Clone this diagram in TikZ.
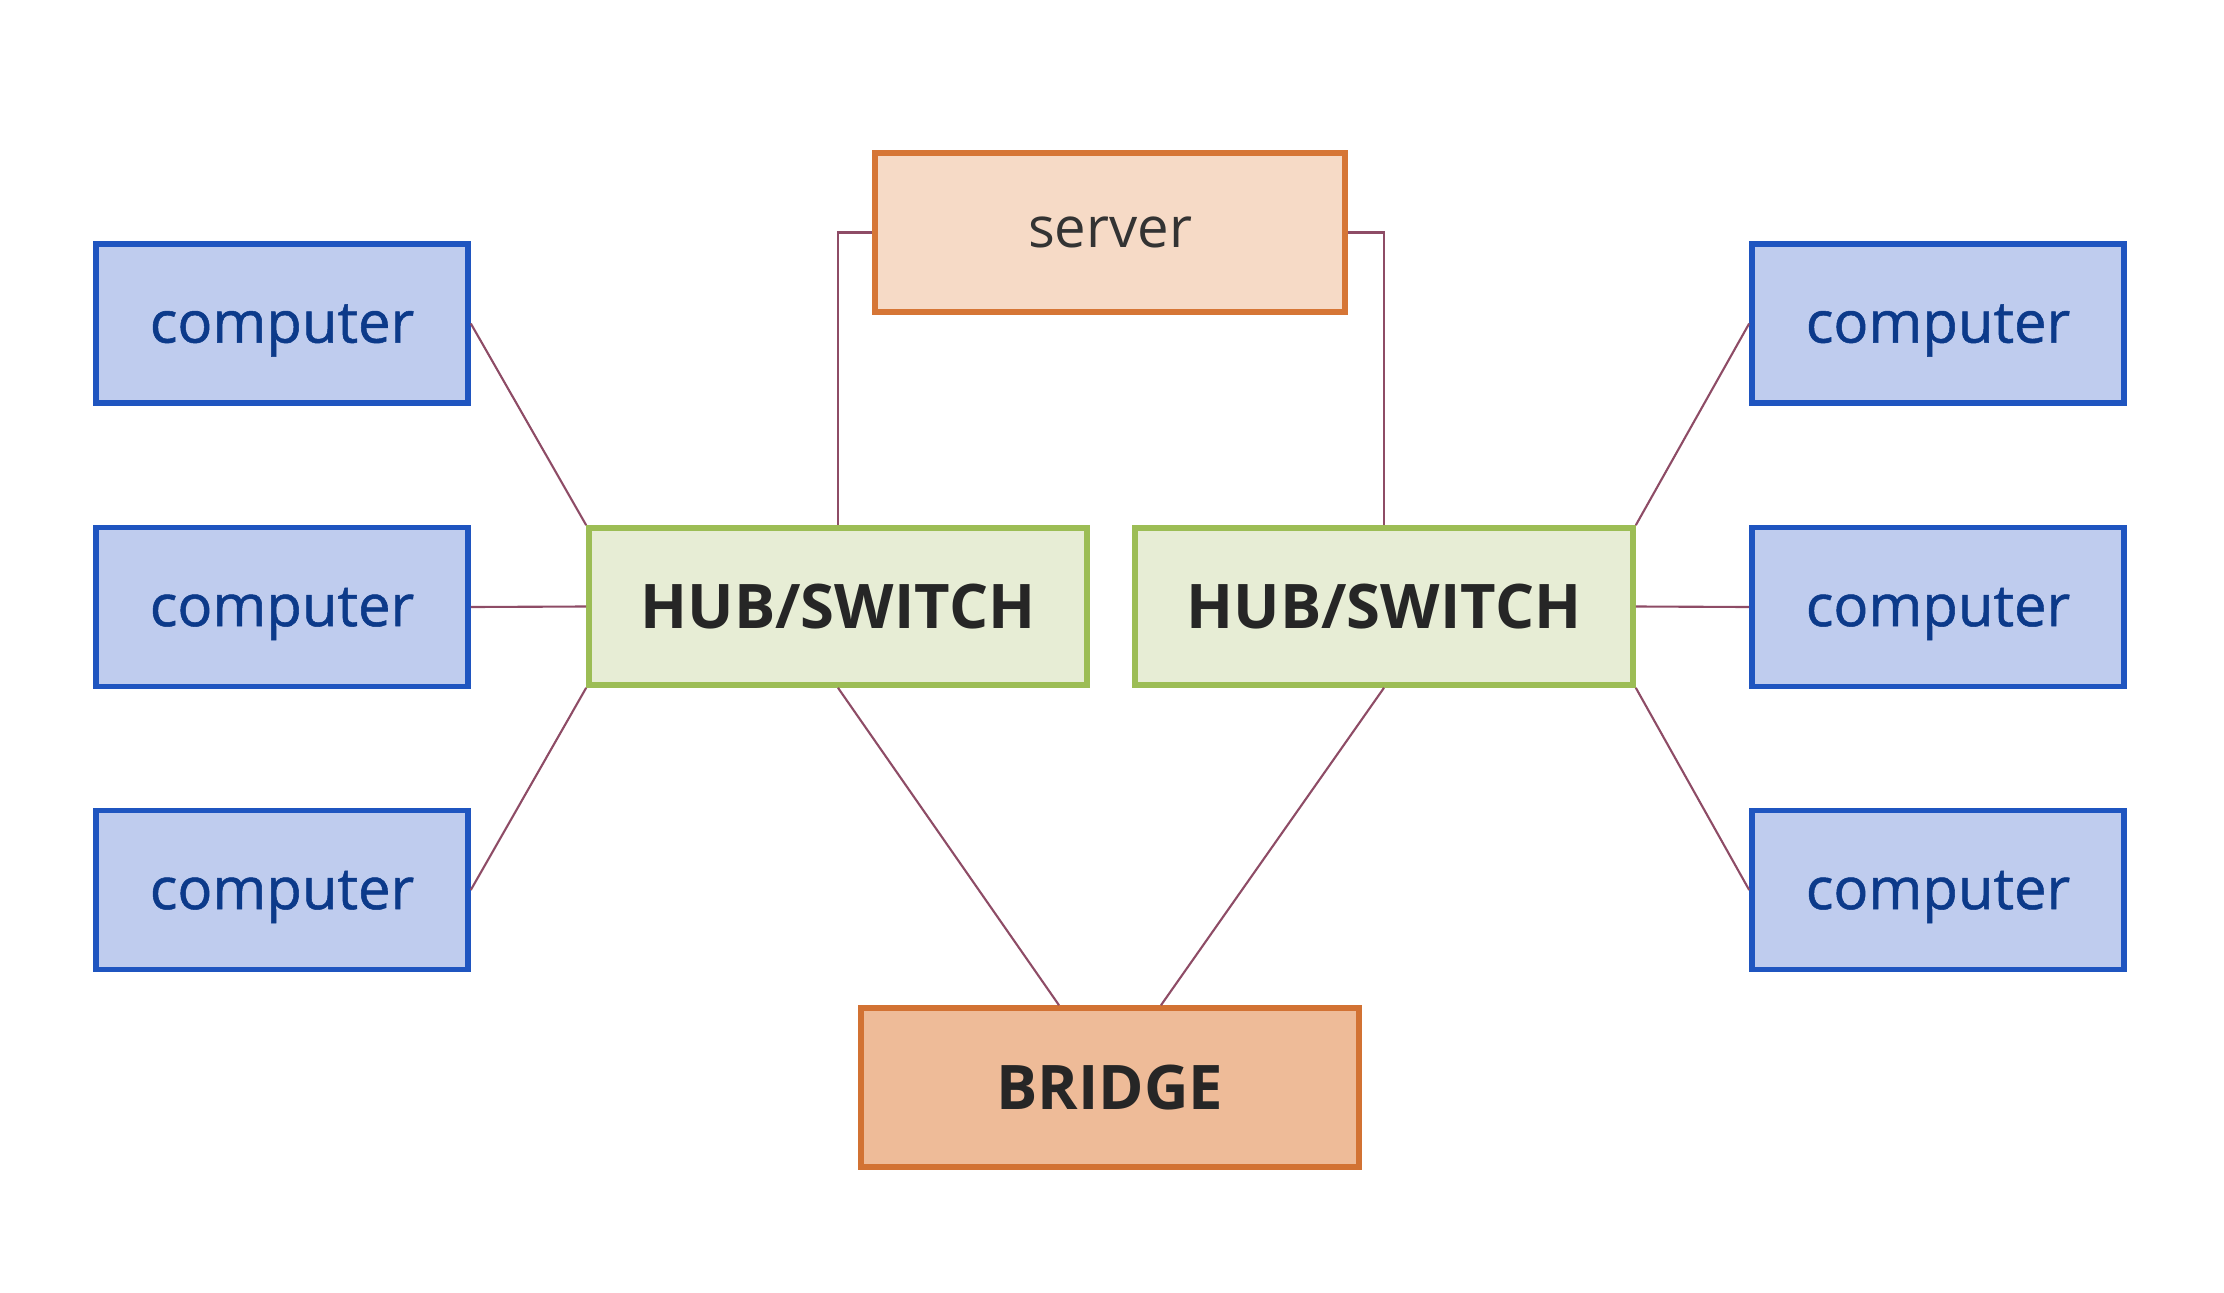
\documentclass[tikz,border=0pt]{standalone}
\usepackage{fontspec}
\setmainfont{Open Sans}
\newfontfamily\compfont[FakeBold=0.9]{Open Sans}
\definecolor{compfill}{HTML}{BFCCEE}
\definecolor{compline}{HTML}{1F55C0}
\definecolor{comptext}{HTML}{0C3A8A}
\definecolor{servfill}{HTML}{F6DAC6}
\definecolor{servline}{HTML}{D67636}
\definecolor{hubfill}{HTML}{E7EDD5}
\definecolor{hubline}{HTML}{9CBD55}
\definecolor{bridfill}{HTML}{EEBB98}
\definecolor{bridline}{HTML}{D27233}
\definecolor{wire}{HTML}{8E4C66}
\begin{document}
\begin{tikzpicture}[
        box/.style={rectangle, draw, line width=1.6pt, inner sep=0pt},
        comp/.style={box, fill=compfill, draw=compline, text=comptext, text depth=0pt,
          minimum width=37.2mm, minimum height=15.9mm, font=\compfont\fontsize{16.5}{18}\selectfont},
        hub/.style={box, fill=hubfill, draw=hubline, text=black!85,
          minimum width=49.8mm, minimum height=15.7mm, font=\fontsize{17.5}{20}\selectfont\bfseries},
        wire/.style={draw=wire, line width=0.6pt}
    ]
      \useasboundingbox (0,0) rectangle (22.24,-12.93);

      % Server and bridge
      \node[box, fill=servfill, draw=servline, text=black!80, minimum width=47mm,
        minimum height=15.9mm, font=\fontsize{16}{18}\selectfont] (server) at (11.10,-2.325) {server};
      \node[box, fill=bridfill, draw=bridline, text=black!85, minimum width=49.8mm,
        minimum height=15.9mm, font=\fontsize{17.5}{20}\selectfont\bfseries] (bridge) at (11.10,-10.875) {BRIDGE};

      % Hubs
      \node[hub] (hubl) at (8.38,-6.065) {HUB/SWITCH};
      \node[hub] (hubr) at (13.84,-6.065) {HUB/SWITCH};

      % Left computers
      \node[comp] (cl1) at (2.82,-3.235) {computer};
      \node[comp] (cl2) at (2.82,-6.07) {computer};
      \node[comp] (cl3) at (2.82,-8.90) {computer};

      % Right computers
      \node[comp] (cr1) at (19.38,-3.235) {computer};
      \node[comp] (cr2) at (19.38,-6.07) {computer};
      \node[comp] (cr3) at (19.38,-8.90) {computer};

      % Wires
      \draw[wire] (cl1.east) -- (hubl.north west);
      \draw[wire] (cl2.east) -- (hubl.west);
      \draw[wire] (cl3.east) -- (hubl.south west);
      \draw[wire] (cr1.west) -- (hubr.north east);
      \draw[wire] (cr2.west) -- (hubr.east);
      \draw[wire] (cr3.west) -- (hubr.south east);
      \draw[wire] (server.west) -| (hubl.north);
      \draw[wire] (server.east) -| (hubr.north);
      \draw[wire] (hubl.south) -- ([xshift=-5.1mm]bridge.north);
      \draw[wire] (hubr.south) -- ([xshift=5.1mm]bridge.north);
    \end{tikzpicture}
\end{document}
